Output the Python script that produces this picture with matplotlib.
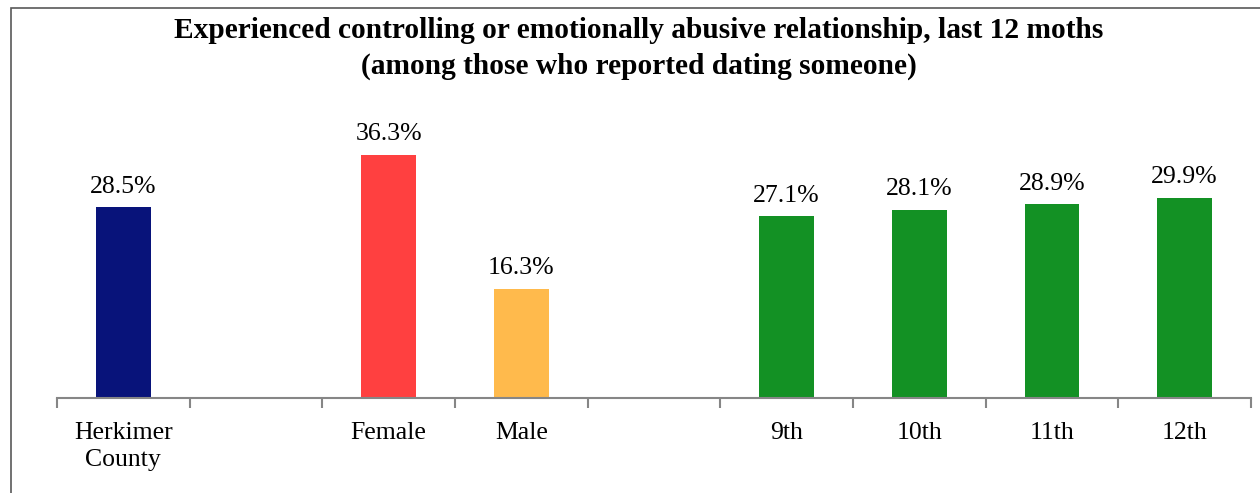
import matplotlib
matplotlib.use("Agg")
from matplotlib import pyplot as plt
from matplotlib.patches import Rectangle

# categories along the x axis (blank slots act as group gaps)
categories = ["Herkimer\nCounty", "", "Female", "Male", "", "9th", "10th", "11th", "12th"]
values = [28.5, None, 36.3, 16.3, None, 27.1, 28.1, 28.9, 29.9]
colors = ["#08137A", None, "#FF4040", "#FFBA4C", None, "#139124", "#139124", "#139124", "#139124"]

plt.rcParams['font.family'] = ['Liberation Serif', 'DejaVu Serif']

fig = plt.figure(figsize=(12.6, 4.93), dpi=100)
ax = fig.add_axes([57 / 1260, 95 / 493, (1251 - 57) / 1260, (398 - 130) / 493])

for i, (v, c) in enumerate(zip(values, colors)):
    if v is None:
        continue
    ax.bar(i, v, width=0.41, color=c)
    ax.text(i, v + 1.4, f"{v:.1f}%", ha='center', va='bottom', fontsize=18.5)

ax.set_xlim(-0.5, len(categories) - 0.5)
ax.set_ylim(0, 40)
ax.set_xticks(range(len(categories)))
ax.set_xticklabels(categories, fontsize=18.5, linespacing=1.3)
ax.set_xticks([i - 0.5 for i in range(len(categories) + 1)], minor=True)
ax.tick_params(axis='x', which='major', length=0, pad=17)
ax.tick_params(axis='x', which='minor', length=7, color='#868686', width=1.5)
ax.set_yticks([])
for s in ['top', 'right', 'left']:
    ax.spines[s].set_visible(False)
ax.spines['bottom'].set_color('#868686')
ax.spines['bottom'].set_linewidth(1.5)

fig.text(639 / 1260, 1 - 31 / 493,
         "Experienced controlling or emotionally abusive relationship, last 12 moths",
         ha='center', va='center', fontsize=21.2, fontweight='bold')
fig.text(639 / 1260, 1 - 66 / 493,
         "(among those who reported dating someone)",
         ha='center', va='center', fontsize=21.2, fontweight='bold')

# outer chart frame
fig.patches.append(Rectangle((11 / 1260, -0.1), 1.2, 1 - 8 / 493 + 0.1,
                             transform=fig.transFigure, fill=False,
                             edgecolor='#595959', linewidth=1.2))

fig.savefig("out.png", dpi=100)
